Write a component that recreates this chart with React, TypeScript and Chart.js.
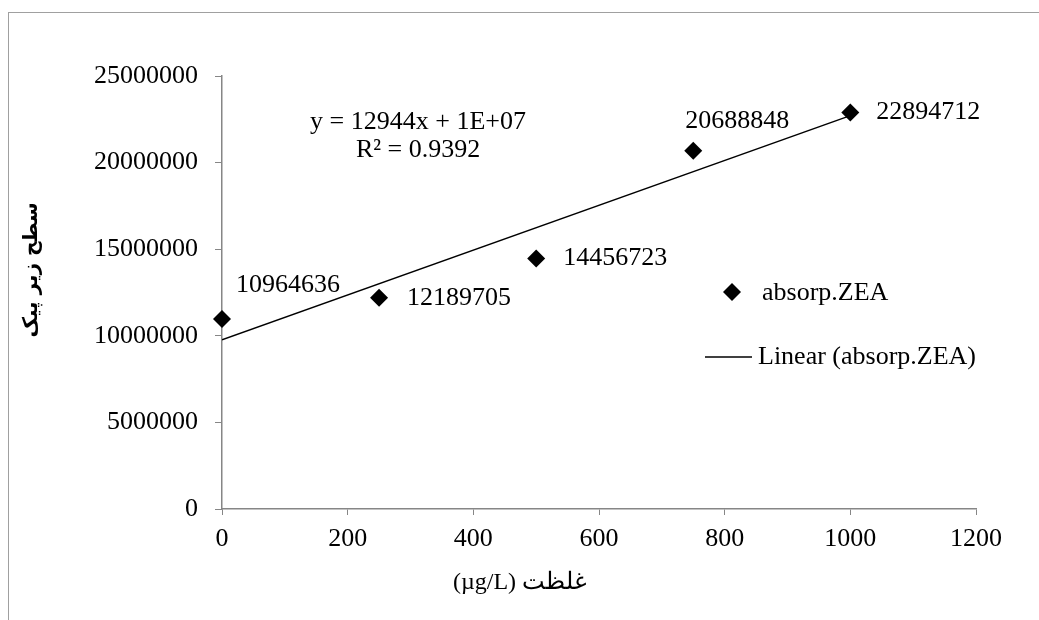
import React, { useEffect, useRef } from "react";
import { Chart, registerables } from "chart.js";

Chart.register(...registerables);

// ---- data ----
const xValues = [0, 250, 500, 750, 1000];
const yValues = [10964636, 12189705, 14456723, 20688848, 22894712];
const seriesName = "absorp.ZEA";
const trendName = "Linear (absorp.ZEA)";
const equationLines = ["y = 12944x + 1E+07", "R² = 0.9392"];
const xTitle = "غلظت (µg/L)";
const yTitle = "سطح زیر پیک";
const xMin = 0;
const xMax = 1200;
const xStep = 200;
const yMin = 0;
const yMax = 25000000;
const yStep = 5000000;

// label offsets (pixels) for the data labels, relative to each point
const labelOffsets: [number, number][] = [
  [14, -34],
  [28, 0],
  [27, 0],
  [-8, -29],
  [26, 0],
];

const SERIF = "'Liberation Serif', 'Times New Roman', serif";
const AXIS_GREY = "#868686";
const EQ_X = 312; // x value where the equation block is centred

function linearFit(xs: number[], ys: number[]) {
  const n = xs.length;
  const mx = xs.reduce((a, b) => a + b, 0) / n;
  const my = ys.reduce((a, b) => a + b, 0) / n;
  let sxy = 0;
  let sxx = 0;
  for (let i = 0; i < n; i++) {
    sxy += (xs[i] - mx) * (ys[i] - my);
    sxx += (xs[i] - mx) * (xs[i] - mx);
  }
  const m = sxy / sxx;
  return { m, b: my - m * mx };
}

const decorPlugin = {
  id: "decor",
  beforeDraw(chart: any) {
    const ctx = chart.ctx;
    ctx.save();
    ctx.fillStyle = "#ffffff";
    ctx.fillRect(0, 0, chart.width, chart.height);
    ctx.strokeStyle = "#a0a0a0";
    ctx.lineWidth = 1;
    ctx.strokeRect(8.5, 12.5, 1200, 800);
    ctx.restore();
  },
  afterDraw(chart: any) {
    const ctx = chart.ctx;
    const xs = chart.scales.x;
    const meta = chart.getDatasetMeta(0);
    ctx.save();
    // data labels
    ctx.fillStyle = "#000";
    ctx.font = `26px ${SERIF}`;
    ctx.textAlign = "left";
    ctx.textBaseline = "middle";
    meta.data.forEach((pt: any, i: number) => {
      const [dx, dy] = labelOffsets[i];
      ctx.fillText(String(yValues[i]), pt.x + dx, pt.y + dy);
    });
    // trendline equation
    ctx.font = `26px ${SERIF}`;
    ctx.textAlign = "center";
    const ex = xs.getPixelForValue(EQ_X);
    ctx.fillText(equationLines[0], ex, 122);
    ctx.fillText(equationLines[1], ex, 150);
    // legend
    const lx = 732;
    const ly = 292;
    ctx.beginPath();
    ctx.moveTo(lx - 9, ly);
    ctx.lineTo(lx, ly - 9);
    ctx.lineTo(lx + 9, ly);
    ctx.lineTo(lx, ly + 9);
    ctx.closePath();
    ctx.fill();
    ctx.font = `26px ${SERIF}`;
    ctx.textAlign = "left";
    ctx.fillText(seriesName, 762, 293);
    ctx.strokeStyle = "#000";
    ctx.lineWidth = 1.5;
    ctx.beginPath();
    ctx.moveTo(705, 357);
    ctx.lineTo(752, 357);
    ctx.stroke();
    ctx.fillText(trendName, 758, 357);
    // axis titles
    ctx.font = `24px ${SERIF}`;
    ctx.textAlign = "center";
    (ctx as any).direction = "rtl";
    ctx.fillText(xTitle, 520, 583);
    ctx.translate(32, 270);
    ctx.rotate(-Math.PI / 2);
    ctx.font = `bold 20px 'DejaVu Sans', sans-serif`;
    ctx.fillText(yTitle, 0, 0);
    ctx.restore();
  },
};

export default function App() {
  const ref = useRef<HTMLCanvasElement>(null);
  useEffect(() => {
    const canvas = ref.current!;
    const fit = linearFit(xValues, yValues);
    const ends = [xValues[0], xValues[xValues.length - 1]];
    const chart = new Chart(canvas, {
      type: "scatter",
      data: {
        datasets: [
          {
            label: seriesName,
            data: xValues.map((x, i) => ({ x, y: yValues[i] })),
            pointStyle: "rectRot",
            pointRadius: 9,
            pointHoverRadius: 9,
            backgroundColor: "#000",
            borderColor: "#000",
            borderWidth: 0,
            showLine: false,
            clip: false,
            order: 1,
          } as any,
          {
            label: trendName,
            type: "line",
            data: ends.map((x) => ({ x, y: fit.b + fit.m * x })),
            borderColor: "#000",
            borderWidth: 1.5,
            pointRadius: 0,
            fill: false,
            order: 2,
          } as any,
        ],
      },
      options: {
        responsive: false,
        animation: false,
        layout: { padding: { left: 0, right: 63, top: 76, bottom: 0 } },
        plugins: {
          legend: { display: false },
          tooltip: { enabled: false },
          title: { display: false },
        },
        scales: {
          x: {
            type: "linear",
            min: xMin,
            max: xMax,
            ticks: {
              stepSize: xStep,
              color: "#000",
              font: { family: SERIF, size: 26 },
              padding: 9,
              callback: (v: any) => String(v),
            },
            grid: {
              drawOnChartArea: false,
              drawTicks: true,
              tickLength: 6,
              color: AXIS_GREY,
            },
            border: { color: AXIS_GREY, width: 1.5 },
            afterFit: (s: any) => {
              s.height = 111;
            },
          },
          y: {
            type: "linear",
            min: yMin,
            max: yMax,
            ticks: {
              stepSize: yStep,
              color: "#000",
              font: { family: SERIF, size: 26 },
              padding: 17,
              callback: (v: any) => String(v),
            },
            grid: {
              drawOnChartArea: false,
              drawTicks: true,
              tickLength: 7,
              color: AXIS_GREY,
            },
            border: { color: AXIS_GREY, width: 1.5 },
            afterFit: (s: any) => {
              s.width = 222;
            },
          },
        },
      },
      plugins: [decorPlugin],
    });
    return () => chart.destroy();
  }, []);
  return (
    <div style={{ position: "absolute", left: 0, top: 0, width: 1039, height: 620, overflow: "hidden" }}>
      <canvas ref={ref} width={1039} height={620} style={{ display: "block" }} />
    </div>
  );
}
